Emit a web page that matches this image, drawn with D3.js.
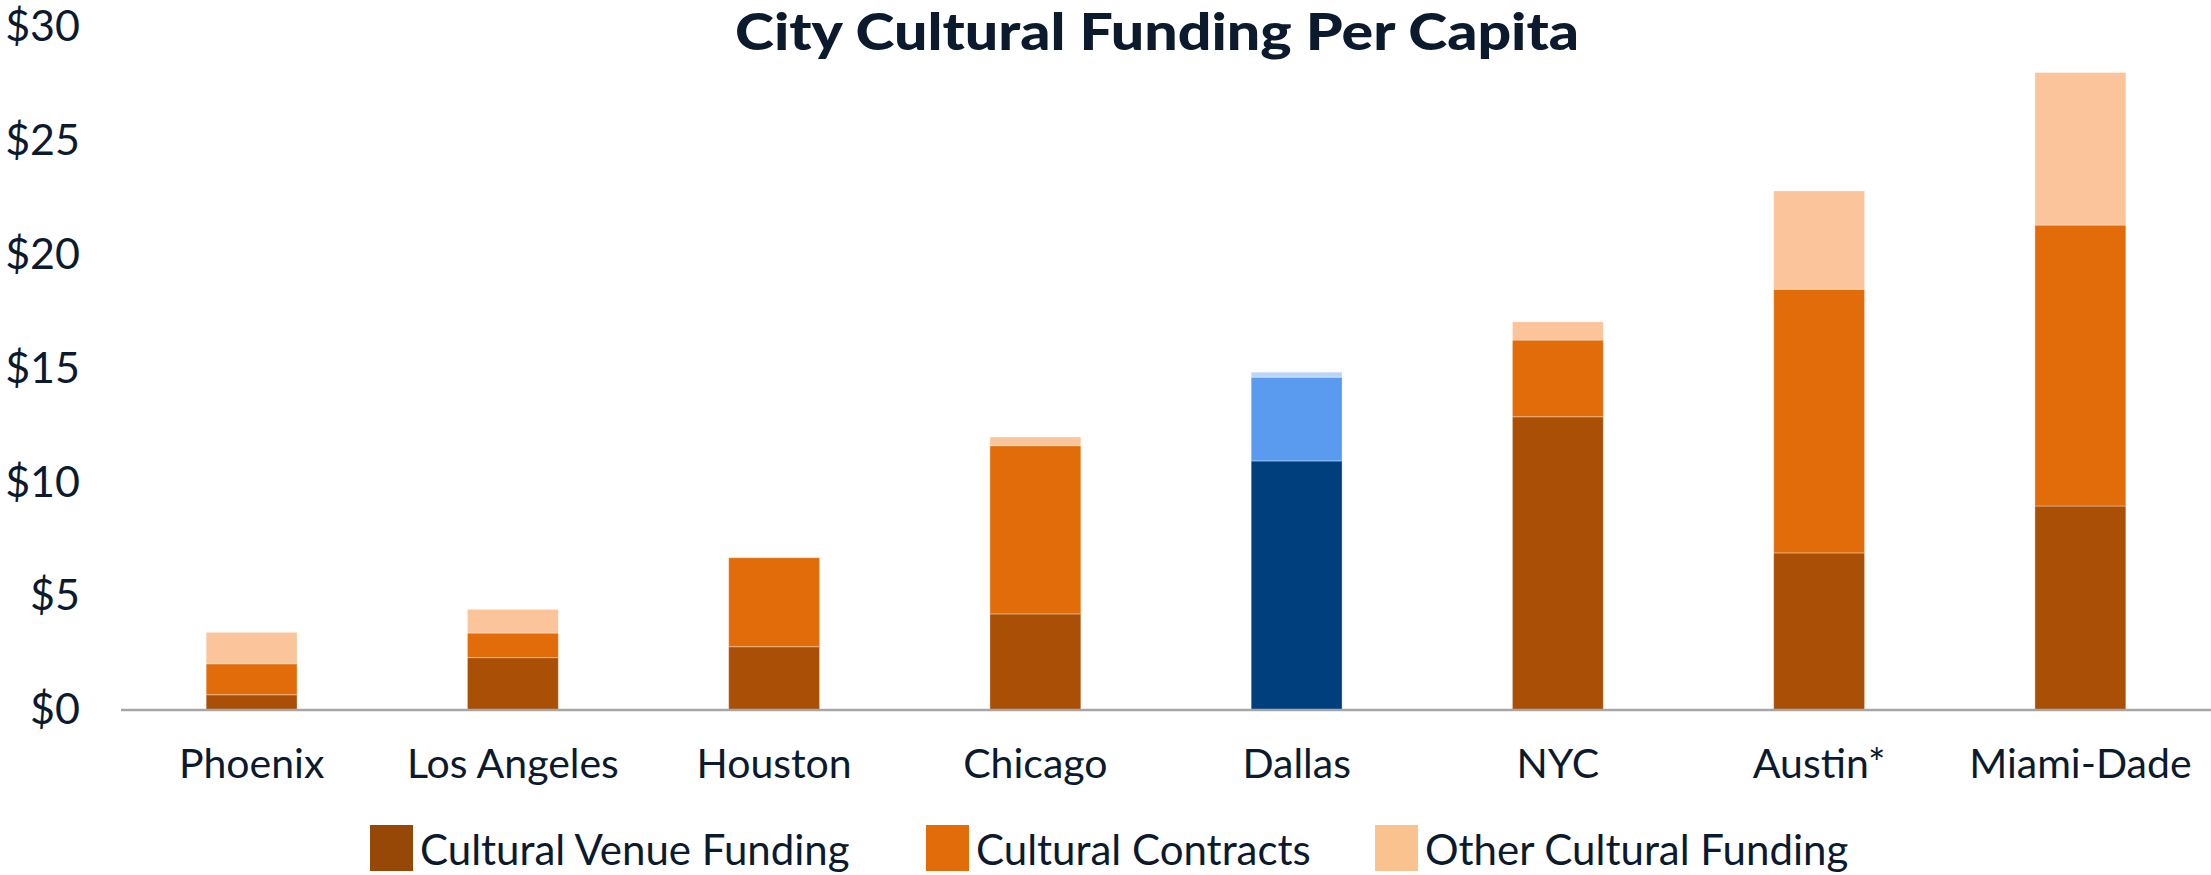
<!DOCTYPE html>
<html>
<head>
<meta charset="utf-8">
<script src="https://cdn.jsdelivr.net/npm/d3@7"></script>
<style>
  html, body { margin: 0; padding: 0; background: #fff; }
  svg { display: block; }
</style>
</head>
<body>
<div id="chartSection"></div>
<script>
var cities = ["Phoenix", "Los Angeles", "Houston", "Chicago", "Dallas", "NYC", "Austin*", "Miami-Dade"];
var venueFunding = [0.67, 2.30, 2.78, 4.22, 10.94, 12.88, 6.90, 8.96];
var culturalContracts = [1.36, 1.08, 3.91, 7.39, 3.68, 3.37, 11.58, 12.34];
var otherFunding = [1.38, 1.04, 0, 0.38, 0.22, 0.80, 4.32, 6.70];
var seriesNames = ["Cultural Venue Funding", "Cultural Contracts", "Other Cultural Funding"];
var yTicks = [0, 5, 10, 15, 20, 25, 30];
var highlightCity = "Dallas";

var colors = ["#AA4F06", "#E26C09", "#FBC49A"];
var highlightColors = ["#003F7D", "#5A9BF0", "#BAD5F6"];
var legendColors = ["#974706", "#E26C09", "#FAC28E"];
var textColor = "#0C1A2E";

var width = 2211;
var height = 875;

var svg = d3.select("#chartSection").append("svg")
    .attr("width", width)
    .attr("height", height);

var rows = cities.map(function(c, i) {
    return { city: c, venue: venueFunding[i], contracts: culturalContracts[i], other: otherFunding[i] };
});
var keys = ["venue", "contracts", "other"];
var stacked = d3.stack().keys(keys)(rows);

var x = d3.scaleBand()
    .domain(cities)
    .range([121, 2211])
    .paddingInner(0.652)
    .paddingOuter(0.326);

var y = d3.scaleLinear()
    .domain([0, 30])
    .range([710, 27]);

// title
svg.append("text")
    .attr("x", 1157)
    .attr("y", 50)
    .attr("text-anchor", "middle")
    .attr("textLength", 844)
    .attr("lengthAdjust", "spacingAndGlyphs")
    .style("font-family", "Lato, sans-serif")
    .style("font-weight", 900)
    .style("font-size", "51px")
    .style("fill", textColor)
    .text("City Cultural Funding Per Capita");

// y axis labels (no line)
var yAxis = svg.append("g")
    .attr("transform", "translate(80,0)")
    .call(d3.axisLeft(y).tickValues(yTicks).tickSize(0).tickPadding(0).tickFormat(function(d) { return "$" + d; }));
yAxis.select(".domain").remove();
yAxis.selectAll("text")
    .style("font-family", "Lato, sans-serif")
    .style("font-size", "43px")
    .style("fill", textColor);

// bars
var layers = svg.append("g").selectAll("g")
    .data(stacked)
    .enter().append("g");

layers.selectAll("rect")
    .data(function(d, li) { return d.map(function(p) { return { p: p, li: li }; }); })
    .enter().append("rect")
    .attr("x", function(d) { return x(d.p.data.city); })
    .attr("width", x.bandwidth())
    .attr("y", function(d) { return y(d.p[1]); })
    .attr("height", function(d) { return y(d.p[0]) - y(d.p[1]); })
    .style("fill", function(d) {
        return d.p.data.city === highlightCity ? highlightColors[d.li] : colors[d.li];
    })
    .style("stroke", "#fff")
    .style("stroke-opacity", 0.35)
    .style("stroke-width", 1);

// baseline
svg.append("line")
    .attr("x1", 121)
    .attr("x2", 2211)
    .attr("y1", y(0))
    .attr("y2", y(0))
    .style("stroke", "#A6A6A6")
    .style("stroke-width", 2.5);

// x labels
var xAxis = svg.append("g")
    .attr("transform", "translate(0," + y(0) + ")")
    .call(d3.axisBottom(x).tickSize(0).tickPadding(0));
xAxis.select(".domain").remove();
xAxis.selectAll("text")
    .attr("dy", null)
    .attr("y", 68)
    .style("font-family", "Lato, sans-serif")
    .style("font-size", "41px")
    .style("fill", textColor);

// legend
var legendX = [370, 926, 1375];
var legend = svg.append("g").selectAll("g")
    .data(seriesNames)
    .enter().append("g")
    .attr("transform", function(d, i) { return "translate(" + legendX[i] + ",825)"; });

legend.append("rect")
    .attr("width", 43)
    .attr("height", 46)
    .style("fill", function(d, i) { return legendColors[i]; });

legend.append("text")
    .attr("x", 50)
    .attr("y", 40)
    .style("font-family", "Lato, sans-serif")
    .style("font-size", "42px")
    .style("fill", textColor)
    .text(function(d) { return d; });
</script>
</body>
</html>
